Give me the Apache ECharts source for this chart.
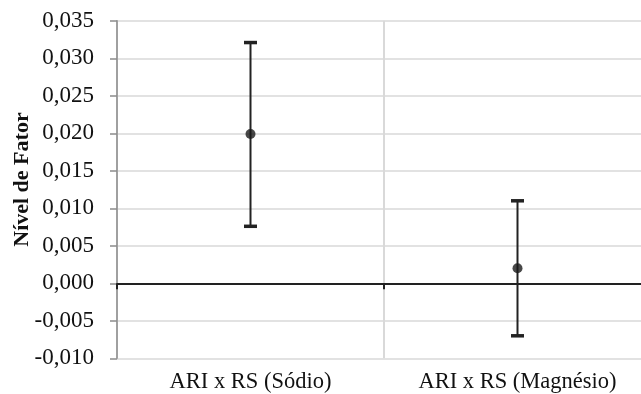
<!DOCTYPE html>
<html>
<head>
<meta charset="utf-8">
<script src="https://cdn.jsdelivr.net/npm/echarts@6/dist/echarts.min.js"></script>
<style>html,body{margin:0;padding:0;background:#fff;}#c{width:641px;height:394px;}</style>
</head>
<body>
<div id="c"></div>
<script>
var categories = ['ARI x RS (Sódio)', 'ARI x RS (Magnésio)'];
var means = [0.0199, 0.0020];
var lows = [0.0076, -0.0070];
var highs = [0.0321, 0.0110];
var yMin = -0.010, yMax = 0.035, yStep = 0.005;
var yName = 'Nível de Fator';

var chart = echarts.init(document.getElementById('c'), null, {renderer: 'canvas'});
var errData = categories.map(function (c, i) { return [i, lows[i], highs[i]]; });
var meanData = categories.map(function (c, i) { return [i, means[i]]; });
var font = 'Liberation Serif';

chart.setOption({
  animation: false,
  backgroundColor: '#fff',
  grid: {left: 117, top: 20.8, width: 534, height: 337.5, containLabel: false, outerBoundsMode: 'none'},
  xAxis: [{
    type: 'category', data: categories, boundaryGap: true, position: 'bottom',
    axisLine: {show: false, onZero: false}, axisTick: {show: false},
    axisLabel: {fontFamily: font, fontSize: 22.5, color: '#111', margin: 12},
    splitLine: {show: true, lineStyle: {color: '#d9d9d9', width: 2}}
  }, {
    type: 'category', data: categories, boundaryGap: true, position: 'bottom',
    axisLine: {show: true, onZero: true, lineStyle: {color: '#222', width: 2}},
    axisTick: {show: true, length: 6, lineStyle: {color: '#222', width: 2}},
    axisLabel: {show: false}, splitLine: {show: false}
  }],
  yAxis: {
    type: 'value', min: yMin, max: yMax, interval: yStep,
    name: yName, nameLocation: 'middle', nameGap: 84, nameRotate: 90, nameMoveOverlap: false,
    nameTextStyle: {fontFamily: font, fontSize: 22, fontWeight: 'bold', color: '#111', padding: [0, 0, 0, 20]},
    axisLine: {show: true, lineStyle: {color: '#8c8c8c', width: 1.5}},
    axisTick: {show: true, length: 7, lineStyle: {color: '#8c8c8c', width: 1.5}},
    axisLabel: {fontFamily: font, fontSize: 23, color: '#111', margin: 23,
      formatter: function (v) { return v.toFixed(3).replace('.', ','); }},
    splitLine: {show: true, lineStyle: {color: '#d9d9d9', width: 1.5}}
  },
  series: [{
    type: 'custom', xAxisIndex: 0,
    data: errData,
    renderItem: function (params, api) {
      var x = api.value(0);
      var lo = api.coord([x, api.value(1)]);
      var hi = api.coord([x, api.value(2)]);
      var cap = 6.5;
      return {
        type: 'group',
        children: [
          {type: 'line', shape: {x1: lo[0], y1: lo[1], x2: hi[0], y2: hi[1]}, style: {stroke: '#222', lineWidth: 2}},
          {type: 'line', shape: {x1: lo[0] - cap, y1: lo[1], x2: lo[0] + cap, y2: lo[1]}, style: {stroke: '#222', lineWidth: 3.5}},
          {type: 'line', shape: {x1: hi[0] - cap, y1: hi[1], x2: hi[0] + cap, y2: hi[1]}, style: {stroke: '#222', lineWidth: 3.5}}
        ]
      };
    },
    z: 5
  }, {
    type: 'scatter', xAxisIndex: 0, data: meanData,
    symbol: 'circle', symbolSize: 10, itemStyle: {color: '#1a1a1a'}, z: 6
  }]
});
</script>
</body>
</html>
